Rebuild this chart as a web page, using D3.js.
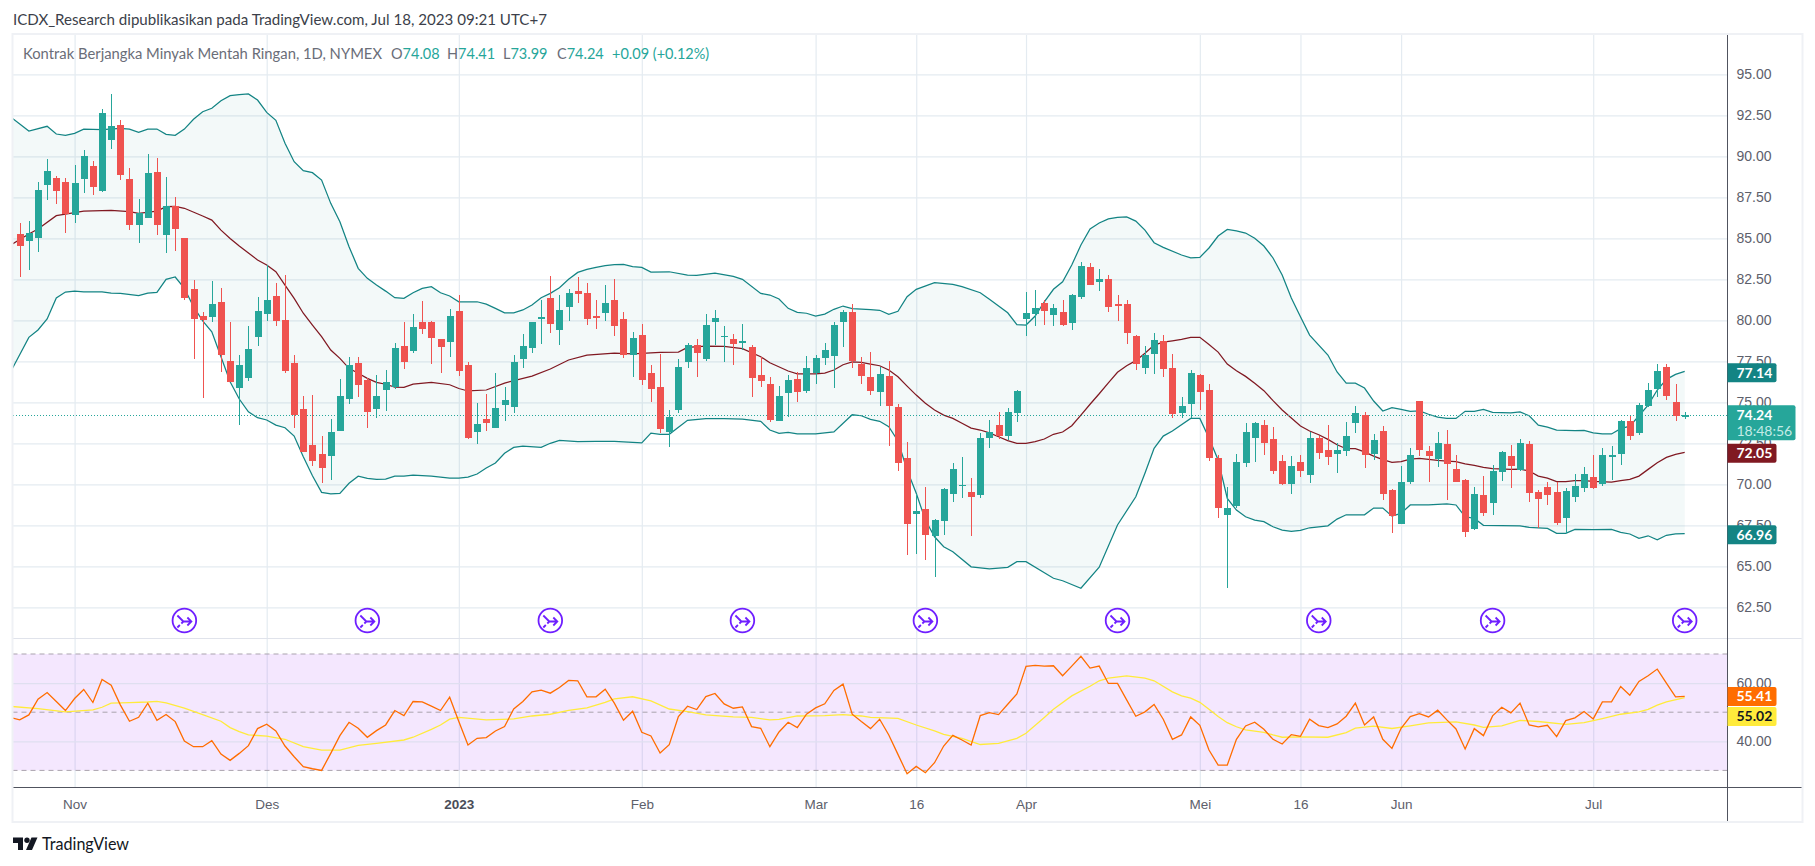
<!DOCTYPE html>
<html>
<head>
<meta charset="utf-8">
<script src="https://cdn.jsdelivr.net/npm/d3@7"></script>
<style>
  html, body { margin: 0; padding: 0; background: #fff; }
  svg { display: block; font-family: Lato, "Noto Sans", sans-serif; }
</style>
</head>
<body>
<div class="chart"></div>
<script>
// Chart sizes
const width = 1815;
const height = 866;
const frame = {left: 12.5, top: 34, right: 1802.5, bottom: 822};
const axisX = 1727.5;
const axisY = 787.5;
const paneBottom = 638.5;

// Daily candles, Oct 2022 - 18 Jul 2023
const opens = [85.26,84.85,85.03,88.27,88.68,88.43,86.44,88.61,89.41,87.88,
90.99,91.91,88.61,85.81,86.24,89.04,85.20,86.97,85.02,81.91,
80.26,80.20,81.11,77.52,75.87,76.48,78.98,80.38,81.48,80.02,
77.39,74.59,72.39,71.85,71.72,73.25,75.20,77.39,76.36,74.59,
75.75,75.93,78.43,78.13,79.89,79.89,78.86,78.67,80.57,77.27,
73.19,73.98,73.43,74.83,74.71,77.64,78.31,80.08,81.36,79.41,
80.81,81.79,81.66,80.26,80.44,81.24,80.08,77.88,79.10,76.78,
75.93,73.19,74.53,77.45,78.49,77.64,79.89,79.04,78.86,78.61,
78.37,76.66,76.11,73.86,75.56,76.42,75.69,76.78,77.70,77.82,
79.89,80.50,77.33,76.54,75.63,76.60,74.71,71.60,68.19,68.49,
66.85,67.76,69.41,69.89,69.53,69.34,72.82,73.61,72.94,74.35,
80.08,80.38,81.05,80.32,80.50,79.83,81.42,83.25,82.33,82.52,
81.00,81.00,79.04,77.09,77.94,78.74,77.09,74.35,74.89,76.66,
75.75,71.60,68.13,68.67,71.30,72.82,73.61,72.76,71.42,70.02,
71.36,70.56,72.82,72.09,71.85,72.03,73.74,74.22,71.85,73.25,
69.65,67.57,70.14,75.08,72.03,71.54,72.46,70.93,70.26,67.27,
69.34,68.86,70.75,71.72,70.87,72.46,69.53,69.83,69.53,67.94,
69.22,69.77,70.44,70.02,71.72,71.85,73.86,73.13,74.77,75.81,
77.15,75.02,74.08];
const closes = [84.53,85.34,87.94,89.10,87.88,86.46,88.37,90.02,88.13,92.64,
91.85,88.86,85.81,86.54,88.98,85.81,86.97,85.57,81.36,80.08,
80.02,81.00,77.88,76.24,77.27,78.25,80.57,81.24,79.96,76.91,
74.22,71.97,71.42,70.99,73.19,75.38,77.27,76.05,74.41,75.38,
76.24,78.31,77.45,79.59,79.47,78.92,78.37,80.26,76.91,72.82,
73.67,73.74,74.65,75.14,77.45,78.43,79.89,80.20,79.77,80.63,
81.66,81.60,80.08,80.14,81.05,79.65,77.88,78.92,76.36,75.81,
73.37,74.10,77.15,78.49,78.00,79.71,80.14,79.07,78.55,78.74,
76.48,76.30,73.92,75.38,76.36,75.63,77.09,77.70,78.19,79.71,
80.50,77.52,76.60,75.69,76.72,74.77,71.30,67.57,68.37,66.91,
67.82,69.71,70.93,69.96,69.22,72.82,73.19,72.94,74.41,75.69,
80.44,80.75,80.57,80.75,79.71,81.54,83.31,82.15,82.52,80.81,
80.87,79.22,77.33,77.88,78.80,77.03,74.28,74.77,76.78,75.63,
71.60,68.55,68.55,71.36,73.19,73.74,72.52,70.81,70.02,71.11,
70.81,72.82,71.91,71.66,72.09,72.94,74.35,71.78,72.70,69.41,
68.06,70.14,71.78,72.09,71.72,72.52,71.24,70.14,67.09,69.41,
68.25,70.81,71.97,71.11,72.52,69.47,69.10,69.34,67.64,69.59,
69.89,70.63,69.77,71.78,71.78,73.86,72.94,74.83,75.75,76.90,
75.38,74.15,74.24];
const highs = [85.93,86.05,88.43,89.83,88.80,88.68,89.47,90.38,89.71,92.88,
93.80,92.21,89.29,87.39,90.14,89.90,88.74,87.52,85.02,82.46,
80.50,82.40,81.97,79.89,77.88,79.65,81.42,83.37,82.27,82.76,
77.88,75.38,75.44,72.94,73.98,76.42,77.76,77.76,76.48,76.66,
76.97,78.61,79.89,80.38,81.18,79.96,78.86,80.69,81.54,77.45,
74.95,75.50,76.78,75.93,77.88,79.16,79.89,81.24,82.70,81.54,
81.91,82.64,82.27,81.24,82.15,82.52,80.50,79.28,79.77,77.27,
77.94,74.53,77.64,78.61,78.86,80.38,80.63,79.65,79.16,79.77,
78.49,77.76,76.54,75.99,76.66,76.85,77.82,77.88,78.61,79.89,
80.63,81.00,77.76,78.06,77.15,77.52,74.89,72.58,69.41,69.83,
67.88,69.77,71.30,71.66,70.38,73.13,73.92,74.41,74.65,75.75,
81.72,81.85,81.24,81.00,81.24,81.60,83.55,83.49,83.13,82.76,
81.54,81.24,79.10,78.43,79.22,79.10,77.94,75.32,76.97,76.72,
76.11,71.78,69.83,71.85,73.74,73.80,73.92,73.49,71.78,71.72,
71.78,73.19,72.94,73.61,72.52,73.80,74.77,74.41,73.06,73.55,
69.71,71.11,72.21,75.08,72.33,73.19,73.31,71.78,70.32,69.83,
70.50,71.17,72.03,72.39,72.76,72.64,69.65,70.14,70.14,69.77,
70.63,71.05,71.78,72.21,72.33,73.92,74.16,74.95,76.17,77.33,
77.33,76.11,74.41];
const lows = [82.64,83.07,84.16,87.33,87.09,85.32,85.93,87.76,87.64,87.82,
90.44,88.55,85.50,84.71,86.24,85.20,84.10,84.22,81.24,77.64,
75.26,79.89,76.85,76.24,73.61,76.30,78.43,79.96,79.65,76.78,
73.43,71.97,71.11,70.08,70.26,73.25,74.89,75.32,73.43,74.04,
74.47,75.81,77.03,78.00,79.16,77.33,76.78,77.76,76.60,72.76,
72.46,73.25,73.43,73.86,74.35,77.09,78.00,78.55,79.22,78.49,
79.96,81.05,79.71,79.47,79.96,79.04,77.70,76.54,76.05,75.02,
73.13,72.27,74.35,77.09,76.54,77.52,78.49,77.45,77.27,78.19,
75.32,75.93,73.80,73.86,74.10,75.02,75.56,76.11,77.27,75.87,
78.37,77.09,76.11,75.44,74.77,72.33,70.81,65.69,65.75,65.38,
64.34,66.91,68.92,69.16,66.85,69.16,72.21,72.76,72.70,73.80,
79.04,79.65,79.71,79.65,79.65,79.41,81.30,82.15,81.79,80.50,
79.96,78.55,76.97,76.72,76.72,76.54,74.04,74.04,74.04,74.53,
71.42,67.94,63.67,68.55,71.05,71.36,71.78,70.63,69.96,69.41,
70.44,70.08,71.54,71.17,70.69,71.72,73.13,70.99,71.48,69.04,
67.03,67.57,70.02,71.72,70.14,71.05,69.04,70.14,66.78,67.21,
68.06,68.13,70.20,69.77,70.81,68.92,67.33,68.74,67.52,67.03,
68.92,69.53,69.71,69.89,70.26,71.17,72.70,73.00,74.71,75.32,
75.14,73.86,73.99];

// Bollinger bands as [bar index, price]
const upperBand = [[-1,92.40],[1,91.54],[3,91.83],[4,91.36],[5,91.28],[6,91.40],[7,91.65],[9,91.62],[11,91.71],[12,91.66],[13,91.46],[14,91.66],[15,91.66],[16,91.34],[17,91.28],[18,91.66],[19,92.26],[20,92.72],[21,92.93],[22,93.39],[23,93.70],[24,93.76],[25,93.80],[26,93.43],[27,92.68],[28,92.19],[29,90.79],[30,89.67],[31,89.12],[32,89.00],[33,88.55],[34,87.13],[35,86.01],[36,84.49],[37,83.17],[38,82.56],[39,82.15],[40,81.78],[41,81.38],[42,81.34],[43,81.68],[44,81.95],[45,82.05],[46,81.68],[47,81.48],[48,81.13],[50,81.13],[51,80.99],[52,80.73],[53,80.46],[54,80.46],[55,80.63],[56,80.93],[57,81.38],[58,81.64],[59,81.99],[60,82.50],[61,82.92],[62,83.11],[63,83.23],[64,83.33],[65,83.40],[66,83.41],[67,83.27],[68,83.23],[69,82.94],[71,82.96],[73,82.76],[74,82.74],[76,82.88],[78,82.68],[79,82.50],[81,81.64],[82,81.54],[83,81.30],[84,80.73],[85,80.49],[86,80.43],[87,80.26],[88,80.38],[89,80.67],[90,80.87],[91,80.71],[93,80.65],[94,80.61],[95,80.36],[96,80.55],[97,81.44],[98,81.89],[100,82.29],[102,82.19],[103,82.05],[105,81.68],[106,81.28],[108,80.46],[109,79.73],[110,79.71],[111,80.26],[112,81.13],[113,81.89],[114,82.35],[115,83.37],[116,84.59],[117,85.57],[118,85.93],[119,86.18],[120,86.27],[121,86.30],[122,86.05],[123,85.50],[124,84.73],[125,84.45],[127,83.98],[128,83.81],[129,83.84],[130,84.41],[131,85.14],[132,85.54],[133,85.45],[134,85.32],[135,85.00],[136,84.53],[137,83.80],[138,82.76],[139,81.36],[140,80.22],[141,79.10],[143,77.88],[144,76.85],[145,76.17],[146,76.17],[147,75.87],[148,75.08],[149,74.47],[150,74.67],[151,74.57],[152,74.45],[153,74.47],[154,74.27],[155,74.10],[156,74.02],[157,74.02],[158,74.45],[159,74.45],[160,74.57],[161,74.39],[163,74.36],[164,74.41],[165,74.18],[166,73.61],[167,73.49],[168,73.31],[169,73.29],[170,73.27],[171,73.29],[172,73.13],[173,73.07],[174,73.07],[175,73.39],[176,73.55],[177,74.18],[178,74.83],[179,75.75],[180,76.40],[181,76.70],[182,76.89]];
const basisBand = [[-1,84.59],[1,85.26],[2,85.57],[4,86.38],[5,86.48],[7,86.66],[10,86.71],[12,86.63],[13,86.52],[15,86.66],[16,86.93],[17,86.95],[18,86.83],[20,86.36],[21,86.11],[22,85.50],[23,84.99],[24,84.53],[26,83.68],[27,83.37],[28,82.96],[29,82.15],[30,81.34],[31,80.43],[32,79.71],[33,79.00],[34,78.19],[35,77.68],[36,77.07],[37,76.77],[38,76.46],[39,76.22],[40,76.10],[41,75.93],[42,75.91],[43,76.11],[45,76.22],[47,76.07],[48,75.84],[49,75.69],[51,75.75],[53,76.17],[56,76.60],[58,77.03],[60,77.58],[62,77.88],[65,78.00],[67,77.96],[70,78.05],[72,78.06],[73,78.35],[75,78.43],[77,78.41],[79,78.27],[81,77.78],[82,77.41],[84,76.91],[85,76.74],[87,76.74],[88,76.78],[89,76.97],[90,77.29],[91,77.46],[92,77.44],[93,77.33],[94,77.23],[95,76.97],[96,76.56],[97,75.99],[98,75.44],[99,74.94],[100,74.53],[101,74.22],[102,74.02],[103,73.72],[104,73.43],[105,73.31],[106,73.14],[107,72.90],[108,72.66],[109,72.50],[110,72.50],[111,72.60],[112,72.76],[113,73.05],[114,73.19],[115,73.57],[116,74.22],[117,74.88],[118,75.52],[119,76.19],[120,76.83],[121,77.23],[122,77.54],[123,77.99],[124,78.49],[125,78.67],[126,78.75],[127,78.84],[128,78.96],[129,78.96],[130,78.53],[131,78.06],[132,77.33],[133,76.92],[134,76.58],[135,76.16],[136,75.71],[137,75.10],[138,74.53],[139,74.04],[140,73.55],[141,73.25],[142,73.02],[143,72.74],[144,72.41],[145,72.17],[146,72.17],[147,71.98],[148,71.72],[149,71.50],[150,71.34],[151,71.38],[152,71.54],[153,71.58],[154,71.52],[155,71.46],[156,71.42],[157,71.38],[158,71.24],[159,71.16],[160,71.03],[161,70.95],[163,70.91],[164,70.93],[165,70.81],[166,70.50],[167,70.38],[168,70.16],[169,70.16],[170,70.22],[171,70.22],[172,70.18],[174,70.14],[175,70.22],[176,70.30],[177,70.50],[178,70.91],[179,71.31],[180,71.64],[181,71.82],[182,71.95]];
const lowerBand = [[-1,76.85],[1,78.96],[2,79.41],[3,80.08],[4,81.36],[5,81.72],[6,81.78],[7,81.74],[9,81.74],[10,81.66],[11,81.64],[13,81.50],[14,81.66],[15,81.70],[16,82.50],[17,82.64],[18,81.95],[19,80.83],[20,79.97],[21,79.30],[22,77.78],[23,76.25],[24,75.20],[25,74.42],[26,74.06],[27,73.92],[28,73.61],[29,73.45],[30,72.94],[31,71.68],[32,70.52],[33,69.51],[34,69.42],[35,69.45],[36,70.06],[37,70.49],[38,70.36],[39,70.30],[40,70.32],[41,70.50],[42,70.50],[43,70.56],[44,70.53],[45,70.50],[46,70.44],[47,70.38],[48,70.38],[49,70.44],[50,70.63],[51,70.99],[52,71.30],[53,71.89],[54,72.25],[55,72.33],[57,72.25],[58,72.50],[59,72.68],[61,72.60],[63,72.62],[65,72.62],[67,72.56],[68,72.53],[69,73.12],[70,73.05],[71,73.05],[73,73.90],[75,74.00],[77,74.00],[79,73.98],[81,73.84],[82,73.31],[83,73.11],[84,73.17],[85,73.08],[87,73.07],[89,73.19],[91,74.24],[92,74.18],[93,73.96],[94,73.84],[95,73.51],[96,72.64],[97,70.87],[98,69.45],[99,67.82],[100,66.80],[101,66.19],[102,65.89],[104,64.97],[106,64.85],[108,64.94],[109,65.28],[110,65.28],[113,64.27],[114,64.12],[116,63.66],[118,64.94],[120,67.52],[122,69.24],[123,70.67],[124,72.19],[125,72.94],[126,73.25],[128,74.02],[129,74.02],[130,72.82],[131,71.48],[132,69.14],[133,68.43],[134,68.02],[135,67.82],[136,67.72],[137,67.41],[138,67.21],[139,67.13],[140,67.19],[141,67.35],[143,67.47],[144,67.88],[145,68.14],[147,68.14],[148,68.55],[149,68.55],[150,68.06],[151,68.23],[152,68.74],[154,68.75],[156,68.81],[157,68.74],[158,68.02],[159,67.92],[160,67.50],[164,67.47],[165,67.37],[166,67.35],[167,67.31],[168,67.01],[169,67.01],[170,67.25],[172,67.23],[174,67.25],[175,67.07],[176,66.97],[177,66.70],[178,66.86],[179,66.62],[180,66.89],[181,66.97],[182,66.99]];

// RSI, one value per bar starting at index -1
const rsiValues = [48.15,47.35,49.07,54.47,56.77,53.67,50.57,54.70,57.81,53.33,61.26,
59.30,52.52,46.89,48.27,53.10,47.23,49.19,46.77,40.11,38.15,
38.15,40.22,35.62,33.44,35.85,38.50,44.36,45.85,43.55,38.38,
34.70,31.26,30.57,29.99,35.85,41.95,46.54,44.47,41.37,43.67,
45.62,50.57,48.84,53.67,53.55,52.06,50.57,55.16,46.77,38.73,
41.03,41.26,43.55,45.05,51.14,53.67,57.00,57.58,56.54,58.50,
60.91,60.80,55.28,55.28,57.92,53.10,47.23,50.34,43.10,41.83,
35.97,38.84,48.50,52.06,50.91,55.39,56.43,52.87,51.37,51.83,
45.05,44.47,38.15,43.21,46.54,44.70,49.30,51.49,52.87,57.46,
59.65,49.30,46.77,44.36,47.58,42.18,35.51,28.84,31.37,29.19,
32.64,38.38,42.06,40.45,38.73,48.84,49.88,49.19,52.75,56.31,
65.74,66.08,65.85,65.97,62.52,65.85,69.19,65.16,65.85,59.88,
59.88,54.24,48.61,50.11,52.64,47.58,40.68,42.18,48.38,45.51,
37.00,31.83,31.83,40.68,45.28,46.54,44.13,40.68,39.07,42.29,
41.72,47.58,45.39,44.70,45.97,48.61,53.10,45.62,48.38,40.68,
37.58,44.47,48.50,49.53,48.38,50.68,47.35,44.24,37.35,44.36,
41.95,48.73,51.72,49.76,53.10,45.62,44.93,45.51,41.60,47.12,
48.04,50.22,47.69,53.55,53.55,58.84,55.85,60.57,62.52,64.82,
59.99,55.28,55.41];
const rsiMa = [[-1,52.0],[2,51.2],[5,50.1],[8,50.8],[9,51.7],[10,53.1],[12,53.3],[14,53.5],[15,53.7],[16,53.2],[18,51.4],[20,49.2],[22,46.9],[23,44.7],[24,43.3],[25,42.2],[27,41.8],[29,40.7],[31,38.2],[33,37.0],[35,37.0],[37,38.6],[39,39.3],[42,40.45],[43,41.4],[45,44.1],[46,45.6],[47,47.6],[48,48.2],[51,47.35],[54,47.7],[55,48.2],[56,48.7],[58,49.3],[60,50.6],[62,51.5],[64,53.4],[65,54.6],[67,55.3],[69,53.9],[71,51.1],[73,50.2],[75,49.1],[78,48.4],[80,48.2],[82,47.35],[83,47.5],[85,48.7],[88,48.8],[90,49.2],[92,48.7],[93,48.2],[96,47.9],[98,45.6],[100,43.6],[101,42.4],[103,41.0],[105,38.9],[107,39.3],[109,41.0],[110,42.75],[112,48.2],[113,51.0],[115,55.6],[117,58.9],[118,60.8],[119,61.7],[121,62.5],[123,61.7],[124,60.8],[126,57.0],[127,55.6],[128,54.8],[129,53.4],[130,51.0],[131,48.5],[132,46.4],[133,45.0],[134,43.9],[136,43.1],[137,42.2],[138,41.4],[140,41.5],[143,41.4],[145,43.0],[146,44.5],[148,45.2],[150,44.4],[152,45.3],[154,46.3],[157,46.7],[159,45.6],[160,44.8],[162,45.3],[164,47.2],[166,46.8],[169,45.85],[171,46.4],[173,47.8],[175,49.3],[177,50.1],[178,51.0],[179,52.4],[180,53.55],[182,55.02]];

// Axis ticks and labels
const priceTicks = [95, 92.5, 90, 87.5, 85, 82.5, 80, 77.5, 75, 72.5, 70, 67.5, 65, 62.5];
const rsiTicks = [60, 40];
const rsiLevels = [70, 50, 30];
const dateIndex = [6, 27, 48, 68, 87, 98, 110, 129, 140, 151, 172];
const dateLabels = ['Nov', 'Des', '2023', 'Feb', 'Mar', '16', 'Apr', 'Mei', '16', 'Jun', 'Jul'];
const rollIndex = [18, 38, 58, 79, 99, 120, 142, 161, 182];

const legendName = 'Kontrak Berjangka Minyak Mentah Ringan, 1D, NYMEX';
const legendOhlc = [['O', '74.08', 391], ['H', '74.41', 447], ['L', '73.99', 503], ['C', '74.24', 557]];

// Colours
const up = '#26a69a';
const down = '#ef5350';
const teal = '#138484';
const maroon = '#801922';
const orange = '#ff6d00';
const yellow = '#ffeb3b';
const gridColor = '#e4ebf1';
const textColor = '#5d606b';

const svg = d3.select('.chart').append('svg')
    .attr('width', width)
    .attr('height', height);

// Scales
const xScale = d3.scaleLinear().domain([0, 182]).range([19.7, 1684.7]);
const yScale = d3.scaleLinear().domain([95, 62.5]).range([74.3, 607.3]);
const rsiScale = d3.scaleLinear().domain([70, 30]).range([654, 770.4]);

// Clip for everything inside the main pane
svg.append('clipPath').attr('id', 'main-clip').append('rect')
    .attr('x', frame.left).attr('y', frame.top)
    .attr('width', axisX - frame.left).attr('height', paneBottom - frame.top);
svg.append('clipPath').attr('id', 'rsi-clip').append('rect')
    .attr('x', frame.left).attr('y', paneBottom)
    .attr('width', axisX - frame.left).attr('height', axisY - paneBottom);

// Vertical grid and date axis
svg.append('g')
    .attr('transform', `translate(0, ${axisY})`)
    .call(d3.axisBottom(xScale).tickValues(dateIndex).tickSize(0).tickPadding(12)
        .tickFormat((_, i) => dateLabels[i]))
    .call(g => g.select('.domain').remove())
    .call(g => g.selectAll('.tick').append('line')
        .attr('y1', frame.top - axisY).attr('y2', 0)
        .attr('stroke', gridColor).attr('stroke-width', 1.2))
    .call(g => g.selectAll('text')
        .style('font-size', '13.5px')
        .attr('fill', (_, i) => dateLabels[i] === '2023' ? '#4a4d58' : textColor)
        .style('font-weight', (_, i) => dateLabels[i] === '2023' ? 700 : 400));

// Price axis with horizontal grid
svg.append('g')
    .attr('transform', `translate(${axisX}, 0)`)
    .call(d3.axisRight(yScale).tickValues(priceTicks).tickSize(0).tickPadding(9)
        .tickFormat(d3.format('.2f')))
    .call(g => g.select('.domain').remove())
    .call(g => g.selectAll('.tick').append('line')
        .attr('x1', frame.left - axisX).attr('x2', 0)
        .attr('stroke', gridColor).attr('stroke-width', 1.2))
    .call(g => g.selectAll('text').style('font-size', '14px').attr('fill', textColor));

// RSI background band
svg.append('rect')
    .attr('x', frame.left).attr('width', axisX - frame.left)
    .attr('y', rsiScale(70)).attr('height', rsiScale(30) - rsiScale(70))
    .attr('fill', 'rgba(156,39,246,0.11)');

// RSI axis with horizontal grid
svg.append('g')
    .attr('transform', `translate(${axisX}, 0)`)
    .call(d3.axisRight(rsiScale).tickValues(rsiTicks).tickSize(0).tickPadding(9)
        .tickFormat(d3.format('.2f')))
    .call(g => g.select('.domain').remove())
    .call(g => g.selectAll('.tick').append('line')
        .attr('x1', frame.left - axisX).attr('x2', 0)
        .attr('stroke', '#dfdff0').attr('stroke-width', 1.2))
    .call(g => g.selectAll('text').style('font-size', '14px').attr('fill', textColor));

svg.append('g').selectAll('line')
    .data(rsiLevels)
    .join('line')
        .attr('x1', frame.left).attr('x2', axisX)
        .attr('y1', d => rsiScale(d)).attr('y2', d => rsiScale(d))
        .attr('stroke', '#a9a3ad').attr('stroke-width', 1)
        .attr('stroke-dasharray', '5,4');

// Bollinger fill and lines
const main = svg.append('g').attr('clip-path', 'url(#main-clip)');
const priceLine = d3.line().x(d => xScale(d[0])).y(d => yScale(d[1]));

main.append('path')
    .attr('d', priceLine(upperBand.concat(lowerBand.slice().reverse())) + 'Z')
    .attr('fill', 'rgba(19,132,132,0.05)');

[[upperBand, teal], [lowerBand, teal], [basisBand, maroon]].forEach(([band, color]) => {
    main.append('path')
        .attr('d', priceLine(band))
        .attr('fill', 'none')
        .attr('stroke', color)
        .attr('stroke-width', 1.25);
});

// Last price line
main.append('line')
    .attr('x1', frame.left).attr('x2', axisX)
    .attr('y1', Math.round(yScale(closes[182])) + 0.5).attr('y2', Math.round(yScale(closes[182])) + 0.5)
    .attr('stroke', up).attr('stroke-width', 1).attr('stroke-dasharray', '1,2')
    .attr('shape-rendering', 'crispEdges');

// Candles
const candles = main.append('g').selectAll('g')
    .data(opens.map((o, i) => ({i, o, h: highs[i], l: lows[i], c: closes[i]})))
    .join('g')
        .attr('fill', d => d.c >= d.o ? up : down)
        .attr('stroke', 'none')
        .attr('shape-rendering', 'crispEdges');
candles.append('rect')
    .attr('x', d => Math.round(xScale(d.i)) - 0.5)
    .attr('width', 1)
    .attr('y', d => yScale(d.h))
    .attr('height', d => yScale(d.l) - yScale(d.h));
candles.append('rect')
    .attr('x', d => Math.round(xScale(d.i)) - 3.5)
    .attr('width', 7)
    .attr('y', d => yScale(Math.max(d.o, d.c)))
    .attr('height', d => Math.max(1.5, Math.abs(yScale(d.o) - yScale(d.c))));

// Contract roll markers
const rolls = svg.append('g').selectAll('g')
    .data(rollIndex)
    .join('g')
        .attr('transform', d => `translate(${xScale(d)}, 620.5)`)
        .attr('fill', 'none')
        .attr('stroke', '#6f1fff')
        .attr('stroke-width', 1.8);
rolls.append('circle').attr('r', 11.8).attr('fill', '#fff');
rolls.append('path').attr('d', 'M-7,-5 L-1,1 L7,1 M3,-3 L7,1 L3,5 M-7,7 L-4.5,4.5 M-3,3 L-1,1');

// RSI lines
const rsi = svg.append('g').attr('clip-path', 'url(#rsi-clip)');
const rsiLine = d3.line().x(d => xScale(d[0])).y(d => rsiScale(d[1]));
rsi.append('path')
    .attr('d', rsiLine(rsiMa))
    .attr('fill', 'none').attr('stroke', yellow).attr('stroke-width', 1.3);
rsi.append('path')
    .attr('d', rsiLine(rsiValues.map((v, i) => [i - 1, v])))
    .attr('fill', 'none').attr('stroke', orange).attr('stroke-width', 1.3);

// Pane separator, axis lines and outer frame
svg.append('line')
    .attr('x1', frame.left).attr('x2', frame.right)
    .attr('y1', paneBottom).attr('y2', paneBottom)
    .attr('stroke', '#e0e3eb').attr('stroke-width', 1.2);
svg.append('line')
    .attr('x1', axisX).attr('x2', axisX)
    .attr('y1', frame.top).attr('y2', frame.bottom)
    .attr('stroke', '#50535e').attr('stroke-width', 1);
svg.append('line')
    .attr('x1', frame.left).attr('x2', frame.right)
    .attr('y1', axisY).attr('y2', axisY)
    .attr('stroke', '#50535e').attr('stroke-width', 1);
svg.append('rect')
    .attr('x', frame.left).attr('y', frame.top)
    .attr('width', frame.right - frame.left).attr('height', frame.bottom - frame.top)
    .attr('fill', 'none').attr('stroke', '#eff1f5').attr('stroke-width', 2);

// Value tags on the price scale
const valueTags = [
    {text: '77.14', y: yScale(76.89) + 1.5, fill: teal, color: '#fff'},
    {text: '72.05', y: yScale(71.95) + 1, fill: maroon, color: '#fff'},
    {text: '66.96', y: yScale(66.99) + 1, fill: teal, color: '#fff'},
    {text: '55.41', y: rsiScale(55.41), fill: orange, color: '#fff'},
    {text: '55.02', y: rsiScale(55.41) + 20, fill: yellow, color: '#131722'}
];
const tags = svg.append('g').selectAll('g')
    .data(valueTags)
    .join('g')
        .attr('transform', d => `translate(${axisX}, ${d.y})`);
tags.append('path')
    .attr('d', 'M0,-9.5 H47 a2,2 0 0 1 2,2 V7.5 a2,2 0 0 1 -2,2 H0 Z')
    .attr('fill', d => d.fill);
tags.append('text')
    .attr('x', 9).attr('y', 5)
    .attr('fill', d => d.color)
    .style('font-size', '14px').style('font-weight', 700)
    .text(d => d.text);

// Last price tag with countdown
const lastTag = svg.append('g')
    .attr('transform', `translate(${axisX}, ${yScale(closes[182])})`);
lastTag.append('path')
    .attr('d', 'M0,-9.5 H66 a2,2 0 0 1 2,2 V23.5 a2,2 0 0 1 -2,2 H0 Z')
    .attr('fill', up);
lastTag.append('text').attr('x', 9).attr('y', 5).attr('fill', '#fff')
    .style('font-size', '14px').style('font-weight', 700).text('74.24');
lastTag.append('text').attr('x', 9).attr('y', 21).attr('fill', '#c4ebe6')
    .style('font-size', '14px').style('font-weight', 400).text('18:48:56');

// Header and legend
svg.append('text')
    .attr('x', 13).attr('y', 25)
    .attr('textLength', 534)
    .attr('lengthAdjust', 'spacingAndGlyphs')
    .attr('fill', '#3c3f4a')
    .style('font-size', '15px')
    .text('ICDX_Research dipublikasikan pada TradingView.com, Jul 18, 2023 09:21 UTC+7');
svg.append('text')
    .attr('x', 23).attr('y', 59)
    .attr('textLength', 359)
    .attr('lengthAdjust', 'spacingAndGlyphs')
    .attr('fill', '#6a6d78')
    .style('font-size', '14.5px')
    .text(legendName);
legendOhlc.forEach(([key, value, x]) => {
    const label = svg.append('text')
        .attr('x', x).attr('y', 59)
        .style('font-size', '14.5px')
        .attr('fill', '#6a6d78');
    label.append('tspan').text(key);
    label.append('tspan').attr('fill', up).text(value);
});
svg.append('text')
    .attr('x', 612).attr('y', 59)
    .attr('fill', up)
    .style('font-size', '14.5px')
    .text('+0.09 (+0.12%)');

// TradingView mark
const logo = svg.append('g').attr('fill', '#131722');
logo.append('path').attr('d', 'M13,837.5 H23 V850 H18 V843 H13 Z');
logo.append('circle').attr('cx', 27).attr('cy', 840.2).attr('r', 2.7);
logo.append('path').attr('d', 'M31.5,837.5 H37.5 L32,850 H26 Z');
logo.append('text')
    .attr('x', 42).attr('y', 850)
    .attr('textLength', 87)
    .attr('lengthAdjust', 'spacingAndGlyphs')
    .style('font-size', '16.5px')
    .text('TradingView');
</script>
</body>
</html>
